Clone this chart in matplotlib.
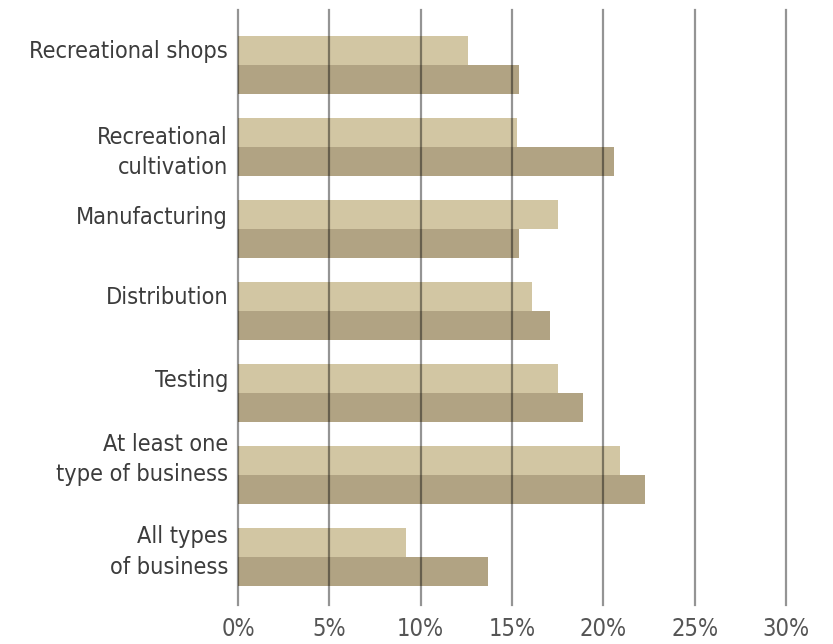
import matplotlib.pyplot as plt
import matplotlib.transforms as mtransforms
import numpy as np

categories = ['Recreational shops', 'Recreational\ncultivation', 'Manufacturing',
              'Distribution', 'Testing', 'At least one\ntype of business',
              'All types\nof business']
light_vals = [12.6, 15.3, 17.5, 16.1, 17.5, 20.9, 9.2]
dark_vals = [15.4, 20.6, 15.4, 17.1, 18.9, 22.3, 13.7]
xticks = [0, 5, 10, 15, 20, 25, 30]
xtick_labels = ['0%', '5%', '10%', '15%', '20%', '25%', '30%']

# vertical nudges of the category labels (group units)
label_offsets = [-0.16, 0.07, -0.14, -0.16, -0.15, -0.19, -0.06]

plt.rcParams['font.family'] = ['DejaVu Sans']
plt.rcParams['font.stretch'] = 'condensed'

W, H = 833, 644
fig = plt.figure(figsize=(W / 100, H / 100), dpi=100)
ax = fig.add_axes([238 / W, 1 - 605 / H, (786 - 238) / W, (605 - 10) / H])

light = '#d2c6a3'
dark = '#b1a383'
h = 0.354
y = np.arange(len(categories))

ax.barh(y - h / 2, light_vals, height=h, color=light, zorder=1)
ax.barh(y + h / 2, dark_vals, height=h, color=dark, zorder=1)

for xv in xticks:
    ax.axvline(xv, color='black', alpha=0.42, lw=1.6, zorder=2, clip_on=False)

ax.set_xlim(0, 30)
ax.set_ylim(6.585, -0.67)
ax.set_xticks(xticks)
ax.set_xticklabels(xtick_labels, fontsize=17, color='#555555')
ax.tick_params(axis='x', length=0, pad=9)
ax.set_yticks([])
for s in ax.spines.values():
    s.set_visible(False)

trans = mtransforms.blended_transform_factory(ax.transAxes, ax.transData)
for i, (cat, off) in enumerate(zip(categories, label_offsets)):
    ax.text(-10 / 548, i + off, cat, transform=trans, ha='right', va='center',
            fontsize=16.8, color='#3c3c3c', linespacing=1.42)

fig.savefig('out.png', dpi=100)
